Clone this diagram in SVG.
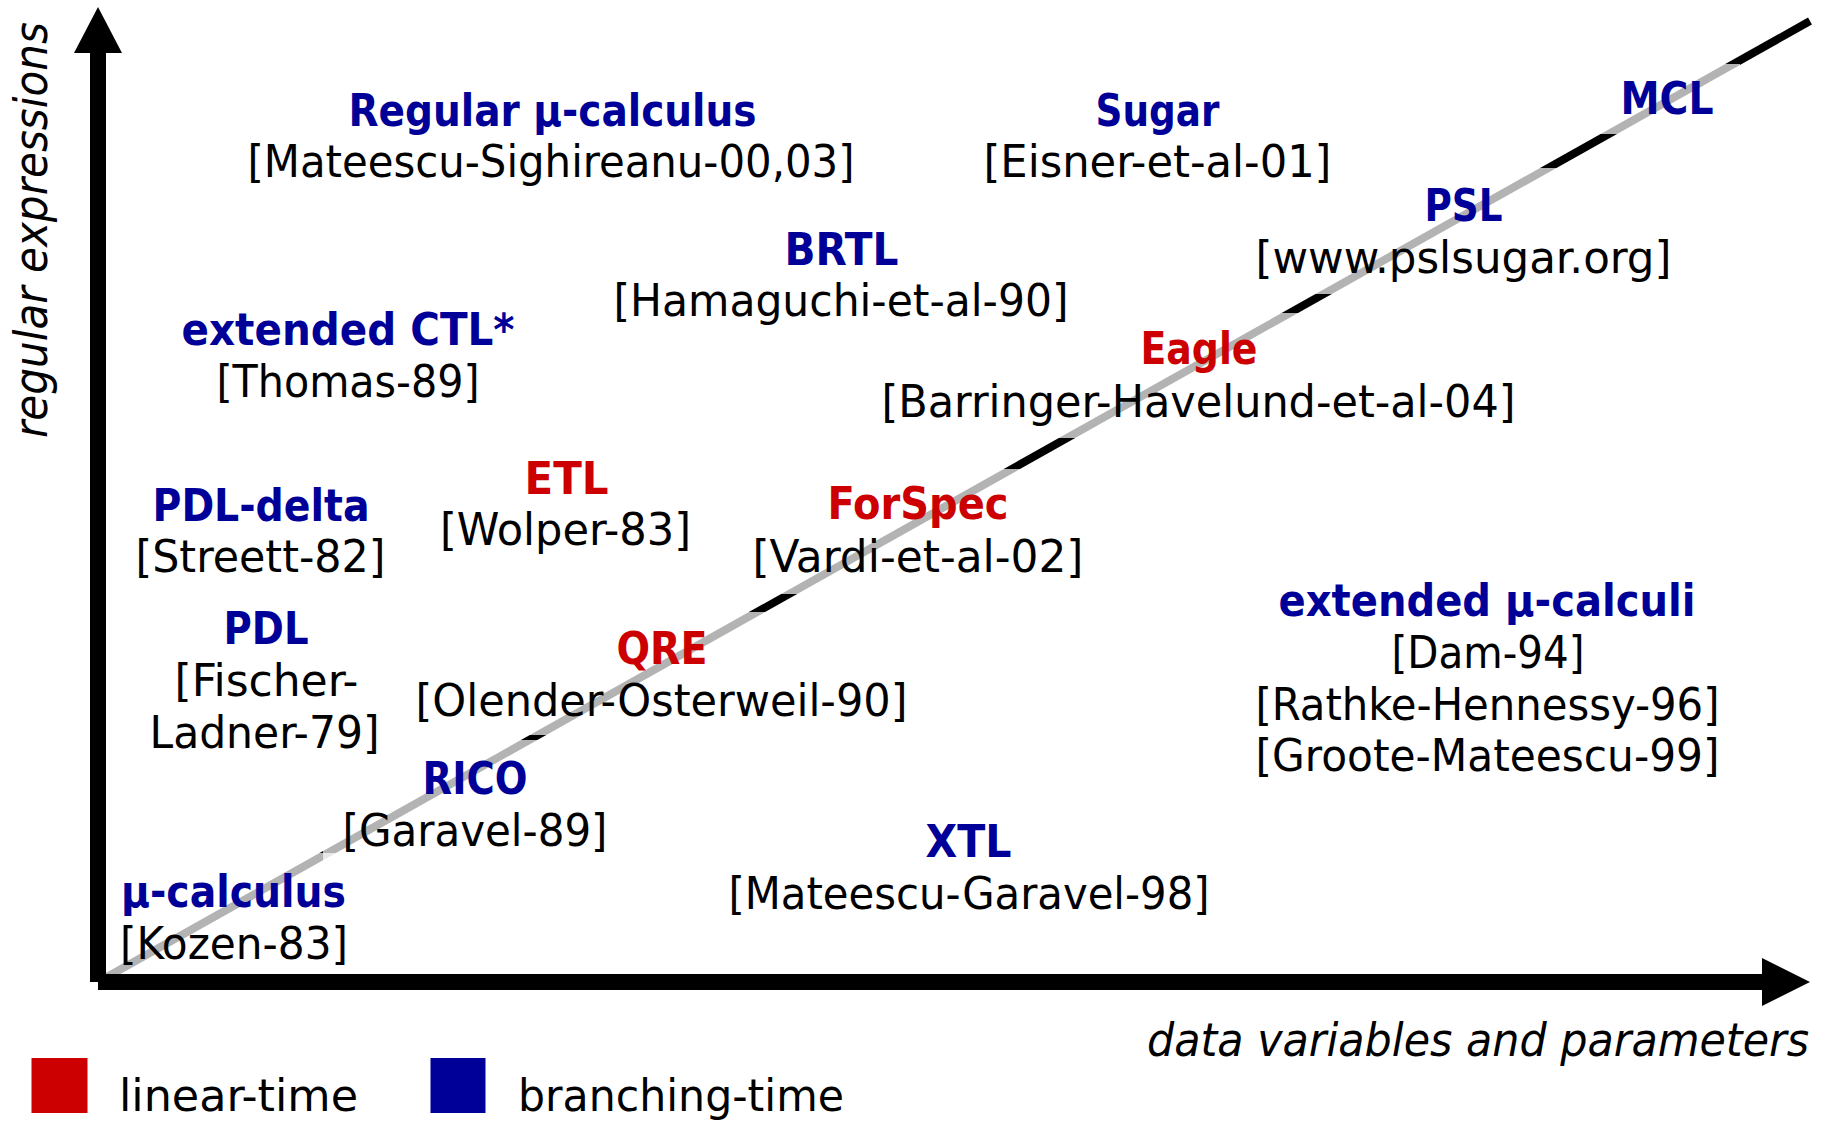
<svg xmlns="http://www.w3.org/2000/svg" width="1827" height="1122" viewBox="0 0 1827 1122">
  <style>
    text { font-family: "DejaVu Sans Condensed", "DejaVu Sans", sans-serif; font-size: 44px; }
    .t { font-weight: bold; text-anchor: middle; }
    .c { fill: #000; text-anchor: middle; }
    .blue { fill: #000099; }
    .red { fill: #cc0000; }
    .box { fill: #fff; fill-opacity: 0.7; }
    .axis-label { font-style: italic; font-size: 46px; fill: #000; }
    .legend { fill: #000; }
  </style>

  <rect width="1827" height="1122" fill="#fff"/>

  <!-- diagonal (drawn under the semi-transparent label backdrops) -->
  <g id="connectors">
    <line x1="98" y1="982" x2="1810" y2="21" stroke="#000" stroke-width="8"/>
  </g>

  <!-- translucent text-box backdrops, one per label, below all label text -->
  <g id="backdrops">
    <rect class="box" x="229" y="74" width="644" height="123"/>
    <rect class="box" x="965" y="74" width="385" height="123"/>
    <rect class="box" x="1600" y="64" width="140" height="70"/>
    <rect class="box" x="595" y="213" width="492" height="123"/>
    <rect class="box" x="1237" y="168" width="453" height="126"/>
    <rect class="box" x="163" y="293" width="370" height="124"/>
    <rect class="box" x="863" y="313" width="671" height="125"/>
    <rect class="box" x="421" y="442" width="288" height="123"/>
    <rect class="box" x="117" y="469" width="287" height="123"/>
    <rect class="box" x="734" y="469" width="368" height="125"/>
    <rect class="box" x="1237" y="564" width="501" height="227"/>
    <rect class="box" x="131" y="592" width="267" height="176"/>
    <rect class="box" x="397" y="612" width="529" height="123"/>
    <rect class="box" x="323" y="740" width="303" height="126"/>
    <rect class="box" x="710" y="805" width="518" height="124"/>
    <rect class="box" x="106" y="853" width="260" height="121"/>
  </g>

  <g id="regular-mu-calculus">
    <text class="t blue" x="552.5" y="126" textLength="408" lengthAdjust="spacingAndGlyphs">Regular μ-calculus</text>
    <text class="c" x="551" y="177" textLength="607" lengthAdjust="spacingAndGlyphs">[Mateescu-Sighireanu-00,03]</text>
  </g>

  <g id="sugar">
    <text class="t blue" x="1157.5" y="126" textLength="124" lengthAdjust="spacingAndGlyphs">Sugar</text>
    <text class="c" x="1157.5" y="177" textLength="348" lengthAdjust="spacingAndGlyphs">[Eisner-et-al-01]</text>
  </g>

  <g id="mcl">
    <text class="t blue" x="1667" y="114" textLength="93" lengthAdjust="spacingAndGlyphs">MCL</text>
  </g>

  <g id="brtl">
    <text class="t blue" x="841.5" y="265" textLength="114" lengthAdjust="spacingAndGlyphs">BRTL</text>
    <text class="c" x="841" y="316" textLength="455" lengthAdjust="spacingAndGlyphs">[Hamaguchi-et-al-90]</text>
  </g>

  <g id="psl">
    <text class="t blue" x="1463.5" y="221" textLength="78" lengthAdjust="spacingAndGlyphs">PSL</text>
    <text class="c" x="1463.5" y="273" textLength="416" lengthAdjust="spacingAndGlyphs">[www.pslsugar.org]</text>
  </g>

  <g id="extended-ctl-star">
    <text class="t blue" x="348" y="345" textLength="333" lengthAdjust="spacingAndGlyphs">extended CTL*</text>
    <text class="c" x="348" y="397" textLength="263" lengthAdjust="spacingAndGlyphs">[Thomas-89]</text>
  </g>

  <g id="eagle">
    <text class="t red" x="1199" y="364" textLength="117" lengthAdjust="spacingAndGlyphs">Eagle</text>
    <text class="c" x="1198.5" y="417" textLength="634" lengthAdjust="spacingAndGlyphs">[Barringer-Havelund-et-al-04]</text>
  </g>

  <g id="etl">
    <text class="t red" x="566.5" y="494" textLength="84" lengthAdjust="spacingAndGlyphs">ETL</text>
    <text class="c" x="565.5" y="545" textLength="251" lengthAdjust="spacingAndGlyphs">[Wolper-83]</text>
  </g>

  <g id="pdl-delta">
    <text class="t blue" x="261" y="521" textLength="217" lengthAdjust="spacingAndGlyphs">PDL-delta</text>
    <text class="c" x="260.5" y="572" textLength="250" lengthAdjust="spacingAndGlyphs">[Streett-82]</text>
  </g>

  <g id="forspec">
    <text class="t red" x="918" y="519" textLength="181" lengthAdjust="spacingAndGlyphs">ForSpec</text>
    <text class="c" x="918" y="572" textLength="331" lengthAdjust="spacingAndGlyphs">[Vardi-et-al-02]</text>
  </g>

  <g id="extended-mu-calculi">
    <text class="t blue" x="1487" y="616" textLength="417" lengthAdjust="spacingAndGlyphs">extended μ-calculi</text>
    <text class="c" x="1488" y="668" textLength="193" lengthAdjust="spacingAndGlyphs">[Dam-94]</text>
    <text class="c" x="1487.5" y="719.5" textLength="464" lengthAdjust="spacingAndGlyphs">[Rathke-Hennessy-96]</text>
    <text class="c" x="1487.5" y="770.5" textLength="464" lengthAdjust="spacingAndGlyphs">[Groote-Mateescu-99]</text>
  </g>

  <g id="pdl">
    <text class="t blue" x="266" y="644" textLength="85" lengthAdjust="spacingAndGlyphs">PDL</text>
    <text class="c" x="266.5" y="696" textLength="184" lengthAdjust="spacingAndGlyphs">[Fischer-</text>
    <text class="c" x="264.5" y="748" textLength="230" lengthAdjust="spacingAndGlyphs">Ladner-79]</text>
  </g>

  <g id="qre">
    <text class="t red" x="662" y="664" textLength="91" lengthAdjust="spacingAndGlyphs">QRE</text>
    <text class="c" x="661.5" y="716" textLength="492" lengthAdjust="spacingAndGlyphs">[Olender-Osterweil-90]</text>
  </g>

  <g id="rico">
    <text class="t blue" x="475" y="794" textLength="105" lengthAdjust="spacingAndGlyphs">RICO</text>
    <text class="c" x="475" y="846" textLength="265" lengthAdjust="spacingAndGlyphs">[Garavel-89]</text>
  </g>

  <g id="xtl">
    <text class="t blue" x="968.5" y="857" textLength="86" lengthAdjust="spacingAndGlyphs">XTL</text>
    <text class="c" x="969" y="909" textLength="481" lengthAdjust="spacingAndGlyphs">[Mateescu-Garavel-98]</text>
  </g>

  <g id="mu-calculus">
    <text class="blue" x="121" y="907" font-weight="bold" textLength="225" lengthAdjust="spacingAndGlyphs">μ-calculus</text>
    <text x="120" y="959" textLength="228" lengthAdjust="spacingAndGlyphs">[Kozen-83]</text>
  </g>

  <!-- axes -->
  <g id="axes" fill="#000">
    <rect x="90" y="53" width="16" height="929"/>
    <polygon points="74,53 122,53 98,7"/>
    <rect x="98" y="974" width="1664" height="16"/>
    <polygon points="1762,958 1762,1006 1810,982"/>
    <text class="axis-label" transform="translate(47,438) rotate(-90)" x="0" y="0" textLength="416" lengthAdjust="spacingAndGlyphs">regular expressions</text>
    <text class="axis-label" x="1147" y="1056" textLength="662" lengthAdjust="spacingAndGlyphs">data variables and parameters</text>
  </g>

  <!-- legend -->
  <g id="legend">
    <rect x="31.5" y="1058" width="56" height="55" fill="#cc0000"/>
    <text class="legend" x="119" y="1111" textLength="239" lengthAdjust="spacingAndGlyphs">linear-time</text>
    <rect x="430.5" y="1058" width="55" height="55" fill="#000099"/>
    <text class="legend" x="518" y="1111" textLength="326" lengthAdjust="spacingAndGlyphs">branching-time</text>
  </g>
</svg>
